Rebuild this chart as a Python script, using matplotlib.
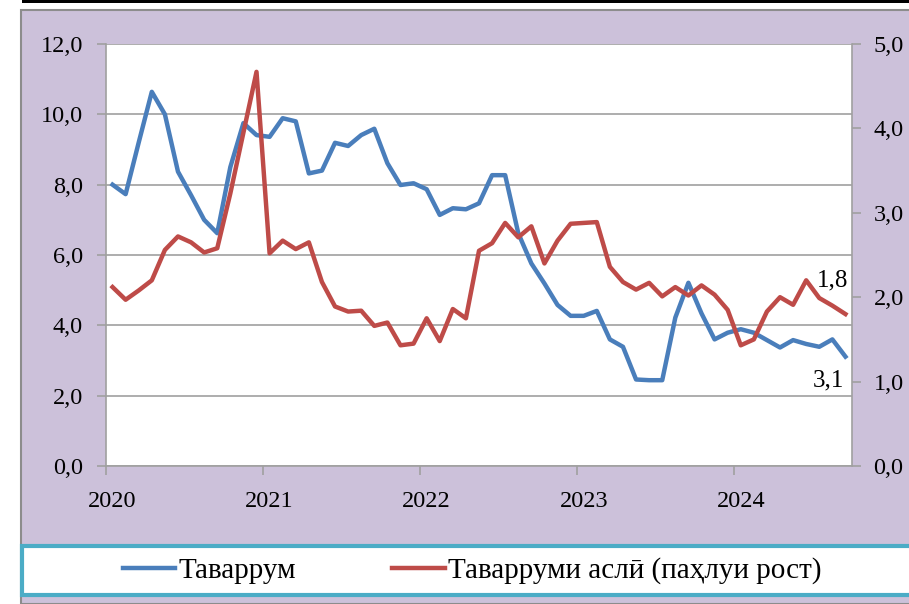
import numpy as np
import matplotlib
matplotlib.use("Agg")
import matplotlib.pyplot as plt
from matplotlib.patches import Rectangle
from matplotlib.lines import Line2D
from matplotlib.ticker import FuncFormatter, FixedLocator

plt.rcParams['font.family'] = ['Liberation Serif', 'DejaVu Serif']

# monthly data, Jan 2020 - Sep 2024
inflation = [8.0, 7.73, 9.2, 10.64, 10.0, 8.37, 7.7, 7.0, 6.62, 8.5, 9.75, 9.41,
             9.36, 9.89, 9.8, 8.32, 8.40, 9.19, 9.10, 9.41, 9.59, 8.61, 7.99, 8.04,
             7.87, 7.14, 7.33, 7.30, 7.47, 8.27, 8.27, 6.62, 5.76, 5.19, 4.58, 4.27,
             4.27, 4.41, 3.60, 3.39, 2.46, 2.44, 2.44, 4.22, 5.21, 4.34, 3.60, 3.79,
             3.89, 3.79, 3.58, 3.37, 3.58, 3.47, 3.39, 3.60, 3.11]
core = [2.12, 1.97, 2.08, 2.20, 2.56, 2.72, 2.65, 2.53, 2.58, 3.23, 3.95, 4.67,
        2.52, 2.67, 2.57, 2.65, 2.18, 1.89, 1.83, 1.84, 1.66, 1.70, 1.43, 1.45,
        1.75, 1.48, 1.86, 1.75, 2.55, 2.64, 2.88, 2.71, 2.84, 2.40, 2.67, 2.87,
        2.88, 2.89, 2.36, 2.18, 2.09, 2.17, 2.01, 2.12, 2.02, 2.14, 2.03, 1.85,
        1.43, 1.50, 1.83, 2.00, 1.91, 2.20, 1.99, 1.90, 1.80]
years = ["2020", "2021", "2022", "2023", "2024"]
labels = ["Таваррум", "Таварруми аслӣ (паҳлуи рост)"]

blue = "#4A7EBB"
red = "#BE4B48"
purple = "#CCC1DA"
teal = "#4BACC6"
grey = "#A0A0A0"

W, H = 909, 604
fig = plt.figure(figsize=(W / 100, H / 100), dpi=100)
fig.patch.set_facecolor("white")

def fx(px):
    return px / W

def fy(py):
    return 1 - py / H

def comma(v, p=None):
    return f"{v:.1f}".replace(".", ",")

# panel background, legend band, top rule
fig.add_artist(Rectangle((fx(21), 0), 1, fy(10), facecolor=purple,
                         edgecolor="#8C8C8C", lw=1.5, zorder=0))
fig.add_artist(Rectangle((fx(22), fy(595)), 1, fy(546) - fy(595), facecolor="white",
                         edgecolor=teal, lw=3, zorder=0))
fig.add_artist(Rectangle((fx(22), fy(3)), 1, fy(0) - fy(3), facecolor="black",
                         edgecolor="none", zorder=0))

ax = fig.add_axes([fx(106), fy(466), fx(852) - fx(106), fy(44) - fy(466)])
ax.set_facecolor("white")
x = np.arange(len(inflation))

ax.plot(x, inflation, color=blue, lw=3.2, zorder=3)
ax.set_xlim(-0.5, len(inflation) - 0.5)
ax.set_ylim(0, 12)
ax.set_yticks(np.arange(0, 12.1, 2))
ax.yaxis.set_major_formatter(FuncFormatter(comma))
ax.grid(axis="y", color=grey, lw=1.2, zorder=0)
ax.set_axisbelow(True)

ax.xaxis.set_major_locator(FixedLocator([0, 12, 24, 36, 48]))
ax.set_xticklabels(years)
ax.xaxis.set_minor_locator(FixedLocator([-0.5, 11.5, 23.5, 35.5, 47.5]))
ax.tick_params(axis="x", which="major", length=0, pad=18, labelsize=17.5)
ax.tick_params(axis="x", which="minor", length=6.5, color=grey, width=1.2)
ax.tick_params(axis="y", length=6.5, color=grey, width=1.2, pad=10, labelsize=17.5)

for s in ["top", "right"]:
    ax.spines[s].set_visible(False)
for s in ["left", "bottom"]:
    ax.spines[s].set_color(grey)
    ax.spines[s].set_linewidth(1.2)

ax2 = ax.twinx()
ax2.plot(x, core, color=red, lw=3.2, zorder=3)
ax2.set_ylim(0, 5)
ax2.set_yticks(np.arange(0, 5.1, 1))
ax2.yaxis.set_major_formatter(FuncFormatter(comma))
ax2.tick_params(axis="y", length=6.5, color=grey, width=1.2, pad=9, labelsize=17.5)
for s in ["top", "left", "bottom"]:
    ax2.spines[s].set_visible(False)
ax2.spines["right"].set_color(grey)
ax2.spines["right"].set_linewidth(1.2)

ax2.annotate(comma(core[-1]), (x[-1], core[-1]),
             xytext=(-9, 24), textcoords="offset points", ha="center", va="center",
             fontsize=18)
ax.annotate(comma(inflation[-1]), (x[-1], inflation[-1]),
            xytext=(-12, -17), textcoords="offset points", ha="center", va="center",
            fontsize=18)

handles = [Line2D([], [], color=blue, lw=3.2), Line2D([], [], color=red, lw=3.2)]
fig.legend(handles, labels, loc="center", bbox_to_anchor=(fx(472), fy(571)),
           ncol=2, frameon=False, fontsize=21, handlelength=1.8,
           handletextpad=0.1, columnspacing=3.3)

fig.savefig("out.png", dpi=100)
